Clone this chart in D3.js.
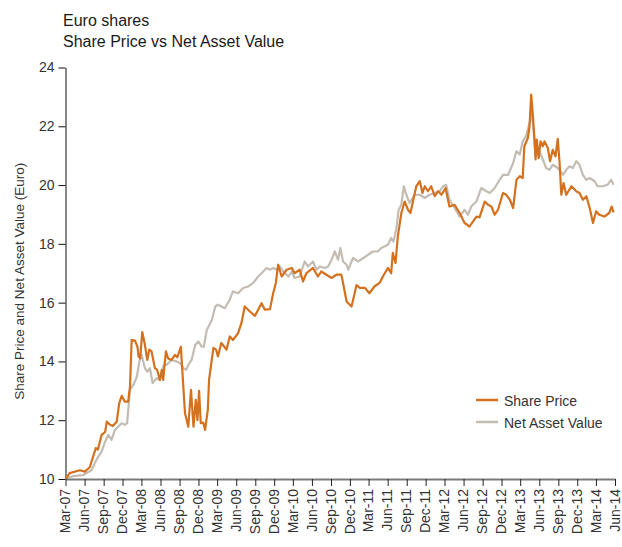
<!DOCTYPE html>
<html>
<head>
<meta charset="utf-8">
<script src="https://cdn.jsdelivr.net/npm/d3@7"></script>
<style>
  body { margin: 0; background: #fff; }
  text { font-family: "Liberation Sans", Arial, Helvetica, sans-serif; }
</style>
</head>
<body>
<div id="chart"></div>
<script>
// titles and labels
var titleLines = ["Euro shares", "Share Price vs Net Asset Value"];
var yLabel = "Share Price and Net Asset Value (Euro)";
var seriesNames = ["Share Price", "Net Asset Value"];
var yTicks = [10, 12, 14, 16, 18, 20, 22, 24];

// share price
var sharePrice = [
  ["2007-03-01",10.0],["2007-03-21",10.2],["2007-05-09",10.3],["2007-06-02",10.25],["2007-06-26",10.4],
  ["2007-07-25",11.05],["2007-08-04",11.0],["2007-08-22",11.5],["2007-09-08",11.6],["2007-09-16",11.95],
  ["2007-10-01",11.85],["2007-10-15",11.8],["2007-11-03",11.95],["2007-11-15",12.58],["2007-11-27",12.83],
  ["2007-12-12",12.63],["2007-12-28",12.63],["2008-01-06",13.15],["2008-01-14",14.73],["2008-01-30",14.71],
  ["2008-02-11",14.5],["2008-02-16",14.17],["2008-02-24",14.1],["2008-03-05",15.0],["2008-03-18",14.56],
  ["2008-03-29",14.05],["2008-04-08",14.4],["2008-04-19",14.34],["2008-05-05",13.77],["2008-05-16",13.71],
  ["2008-05-29",13.37],["2008-06-07",13.71],["2008-06-14",13.37],["2008-06-27",14.34],["2008-07-08",14.1],
  ["2008-07-24",14.05],["2008-08-10",14.22],["2008-08-21",14.14],["2008-09-07",14.5],["2008-09-27",12.24],
  ["2008-10-13",11.78],["2008-10-26",13.03],["2008-11-07",11.78],["2008-11-18",12.69],["2008-11-26",12.0],
  ["2008-12-04",13.0],["2008-12-12",11.9],["2008-12-24",11.92],["2009-01-02",11.67],["2009-01-15",12.35],
  ["2009-01-21",13.37],["2009-02-11",14.46],["2009-02-24",14.4],["2009-03-05",14.17],["2009-03-21",14.63],
  ["2009-03-29",14.56],["2009-04-15",14.4],["2009-05-01",14.85],["2009-05-16",14.73],["2009-06-10",14.96],
  ["2009-06-26",15.3],["2009-07-12",15.87],["2009-08-06",15.7],["2009-08-30",15.55],["2009-09-15",15.76],
  ["2009-10-01",15.98],["2009-10-17",15.76],["2009-11-11",15.78],["2009-11-26",16.32],["2009-12-09",16.67],
  ["2009-12-20",17.29],["2010-01-06",16.89],["2010-01-30",17.12],["2010-02-24",17.18],["2010-03-09",17.0],
  ["2010-04-03",17.12],["2010-04-19",16.72],["2010-05-05",17.0],["2010-06-06",17.18],["2010-06-30",16.89],
  ["2010-07-16",17.06],["2010-08-10",16.95],["2010-09-04",16.84],["2010-09-27",16.95],["2010-10-21",16.95],
  ["2010-10-29",16.67],["2010-11-15",16.04],["2010-12-09",15.87],["2011-01-02",16.6],["2011-01-18",16.5],
  ["2011-02-12",16.5],["2011-03-05",16.32],["2011-03-29",16.55],["2011-04-23",16.67],["2011-05-09",16.89],
  ["2011-06-02",17.18],["2011-06-18",17.0],["2011-06-26",17.69],["2011-07-09",17.35],["2011-07-20",18.25],
  ["2011-08-06",19.05],["2011-08-22",19.44],["2011-09-07",19.16],["2011-09-19",19.05],["2011-10-01",19.44],
  ["2011-10-17",19.96],["2011-11-03",20.13],["2011-11-16",19.73],["2011-11-27",19.96],["2011-12-12",19.79],
  ["2011-12-28",19.96],["2012-01-14",19.62],["2012-01-30",19.79],["2012-02-16",19.67],["2012-03-06",19.9],
  ["2012-03-25",19.27],["2012-04-19",19.33],["2012-05-13",19.05],["2012-06-06",18.71],["2012-06-30",18.59],
  ["2012-07-16",18.76],["2012-08-02",18.93],["2012-08-17",18.9],["2012-09-11",19.44],["2012-09-27",19.33],
  ["2012-10-13",19.27],["2012-10-29",18.99],["2012-11-14",19.16],["2012-12-08",19.73],["2012-12-24",19.67],
  ["2013-01-10",19.5],["2013-01-26",19.22],["2013-02-11",20.18],["2013-02-27",20.3],["2013-03-13",20.24],
  ["2013-03-21",21.32],["2013-04-07",21.6],["2013-04-15",22.0],["2013-04-23",23.08],["2013-04-30",22.46],
  ["2013-05-09",21.55],["2013-05-14",20.87],["2013-05-20",21.55],["2013-05-29",20.92],["2013-06-07",21.49],
  ["2013-06-18",21.32],["2013-06-26",21.49],["2013-07-12",21.26],["2013-07-23",20.81],["2013-08-05",21.2],
  ["2013-08-18",20.98],["2013-08-29",21.57],["2013-09-07",20.75],["2013-09-15",19.67],["2013-09-26",20.07],
  ["2013-10-09",19.67],["2013-11-03",19.96],["2013-11-26",19.79],["2013-12-12",19.73],["2013-12-28",19.5],
  ["2014-01-14",19.62],["2014-01-30",19.22],["2014-02-15",18.71],["2014-03-02",19.11],["2014-03-17",18.99],
  ["2014-04-11",18.93],["2014-05-04",19.05],["2014-05-16",19.27],["2014-05-25",19.07]
];

// net asset value
var netAssetValue = [
  ["2007-03-01",10.0],["2007-04-07",10.1],["2007-05-24",10.13],["2007-07-04",10.3],["2007-07-28",10.65],
  ["2007-08-06",10.76],["2007-08-22",10.93],["2007-09-08",11.27],["2007-09-23",11.5],["2007-10-09",11.33],
  ["2007-10-25",11.67],["2007-11-10",11.78],["2007-11-27",11.9],["2007-12-12",11.84],["2007-12-23",11.9],
  ["2008-01-06",13.03],["2008-01-22",13.2],["2008-02-08",13.48],["2008-02-20",14.0],["2008-03-02",14.22],
  ["2008-03-18",13.77],["2008-03-29",13.65],["2008-04-11",13.77],["2008-04-24",13.26],["2008-05-13",13.43],
  ["2008-05-29",13.37],["2008-06-17",13.88],["2008-06-30",13.88],["2008-07-24",14.05],["2008-08-18",14.0],
  ["2008-09-04",13.94],["2008-09-19",13.77],["2008-10-02",13.71],["2008-10-13",13.88],["2008-10-29",14.05],
  ["2008-11-15",14.56],["2008-11-30",14.68],["2008-12-17",14.5],["2008-12-27",14.5],["2009-01-10",15.07],
  ["2009-02-04",15.42],["2009-02-20",15.87],["2009-03-05",15.93],["2009-04-07",15.81],["2009-05-01",16.1],
  ["2009-05-16",16.38],["2009-06-10",16.32],["2009-07-04",16.5],["2009-07-28",16.55],["2009-08-22",16.67],
  ["2009-09-15",16.89],["2009-10-01",17.0],["2009-10-25",17.18],["2009-11-11",17.12],["2009-11-26",17.18],
  ["2009-12-13",17.12],["2009-12-28",17.23],["2010-01-14",17.06],["2010-02-08",16.89],["2010-02-24",17.06],
  ["2010-03-09",16.84],["2010-04-03",16.89],["2010-04-27",17.4],["2010-05-13",17.23],["2010-06-06",17.4],
  ["2010-06-23",17.12],["2010-07-08",17.23],["2010-08-02",17.18],["2010-08-18",17.23],["2010-09-04",17.46],
  ["2010-09-19",17.74],["2010-10-05",17.46],["2010-10-16",17.86],["2010-10-29",17.4],["2010-11-15",17.29],
  ["2010-11-23",17.12],["2010-12-16",17.52],["2011-01-10",17.4],["2011-02-04",17.52],["2011-02-27",17.63],
  ["2011-03-21",17.74],["2011-04-15",17.74],["2011-05-01",17.86],["2011-05-16",17.91],["2011-06-02",17.97],
  ["2011-06-18",18.2],["2011-06-29",18.08],["2011-07-12",18.48],["2011-07-24",19.16],["2011-08-06",19.33],
  ["2011-08-18",19.96],["2011-08-30",19.67],["2011-09-15",19.39],["2011-10-09",19.67],["2011-11-03",19.67],
  ["2011-11-27",19.56],["2011-12-20",19.67],["2012-01-14",19.73],["2012-02-07",19.79],["2012-02-23",19.96],
  ["2012-03-09",20.01],["2012-03-25",19.5],["2012-04-19",19.22],["2012-05-13",18.93],["2012-06-06",19.16],
  ["2012-06-22",18.99],["2012-07-08",19.27],["2012-08-02",19.44],["2012-08-25",19.9],["2012-09-19",19.79],
  ["2012-10-05",19.73],["2012-10-29",19.9],["2012-11-22",20.18],["2012-12-08",20.35],["2013-01-02",20.35],
  ["2013-01-26",20.75],["2013-02-11",21.15],["2013-02-27",21.04],["2013-03-13",21.49],["2013-03-29",21.66],
  ["2013-04-15",22.11],["2013-04-26",22.46],["2013-05-04",21.89],["2013-05-14",20.98],["2013-06-02",21.15],
  ["2013-06-18",20.87],["2013-07-04",20.58],["2013-07-20",20.52],["2013-08-05",20.69],["2013-08-29",20.58],
  ["2013-09-23",20.35],["2013-10-09",20.52],["2013-10-25",20.64],["2013-11-10",20.58],["2013-11-26",20.81],
  ["2013-12-12",20.69],["2013-12-28",20.35],["2014-01-14",20.18],["2014-01-30",20.24],["2014-02-23",20.13],
  ["2014-03-09",19.96],["2014-04-03",19.96],["2014-04-26",20.01],["2014-05-13",20.18],["2014-05-25",20.01]
];

var width = 622, height = 547;
var margin = {top: 67.5, right: 7, bottom: 68, left: 65.5};
var colors = ["#d4711f", "#c3bcb3"];

var parseDate = d3.timeParse("%Y-%m-%d");
var series = [sharePrice, netAssetValue].map(function(s){
  return s.map(function(d){ return {date: parseDate(d[0]), value: d[1]}; });
});

var svg = d3.select('#chart')
  .append('svg')
  .attr('width', width)
  .attr('height', height);

var x = d3.scaleTime()
  .domain([new Date(2007, 2, 1), new Date(2014, 5, 1)])
  .range([margin.left, width - margin.right]);

var y = d3.scaleLinear()
  .domain([10, 24])
  .range([height - margin.bottom, margin.top]);

// title
svg.append('g').selectAll('text')
  .data(titleLines)
  .enter()
  .append('text')
  .attr('x', 63)
  .attr('y', function(d, i){ return 26 + i * 21; })
  .attr('font-size', 16)
  .attr('fill', '#1a1a1a')
  .text(function(d){ return d; });

// y axis
var yAxis = svg.append('g')
  .attr('transform', 'translate(' + margin.left + ',0)')
  .call(d3.axisLeft(y).tickValues(yTicks).tickSize(7).tickSizeOuter(0).tickPadding(4));
yAxis.select('.domain').attr('stroke', '#111');
yAxis.selectAll('.tick line').attr('stroke', '#111');
yAxis.selectAll('text').attr('font-size', 14).attr('fill', '#333').attr('font-family', null);

svg.append('text')
  .attr('transform', 'translate(24,' + ((margin.top + height - margin.bottom) / 2 + 8) + ') rotate(-90)')
  .attr('text-anchor', 'middle')
  .attr('font-size', 13.5)
  .attr('fill', '#333')
  .text(yLabel);

// x axis, quarterly ticks Mar/Jun/Sep/Dec
var quarters = d3.timeMonth.range(new Date(2007, 2, 1), new Date(2014, 5, 2), 3);
var xAxis = svg.append('g')
  .attr('transform', 'translate(0,' + (height - margin.bottom) + ')')
  .call(d3.axisBottom(x).tickValues(quarters).tickFormat(d3.timeFormat('%b-%y')).tickSize(7).tickSizeOuter(0));
xAxis.selectAll('.tick line').attr('stroke', '#222');
xAxis.selectAll('text')
  .attr('font-size', 14)
  .attr('fill', '#333')
  .attr('font-family', null)
  .attr('text-anchor', 'end')
  .attr('transform', 'rotate(-90)')
  .attr('x', -10)
  .attr('y', 0)
  .attr('dy', '0.3em');

// lines (NAV first so the share price sits on top)
var line = d3.line()
  .x(function(d){ return x(d.date); })
  .y(function(d){ return y(d.value); });

[1, 0].forEach(function(i){
  svg.append('path')
    .datum(series[i])
    .attr('fill', 'none')
    .attr('stroke', colors[i])
    .attr('stroke-width', 2.2)
    .attr('stroke-linejoin', 'round')
    .attr('d', line);
});

// x axis line drawn over the series start
xAxis.select('.domain').attr('stroke', '#7a7a7a').attr('stroke-width', 2);
xAxis.raise();

// legend
var legend = svg.append('g').attr('transform', 'translate(476,400)');
var items = legend.selectAll('g')
  .data(seriesNames)
  .enter()
  .append('g')
  .attr('transform', function(d, i){ return 'translate(0,' + i * 22 + ')'; });
items.append('line')
  .attr('x1', 0).attr('x2', 22)
  .attr('stroke', function(d, i){ return colors[i]; })
  .attr('stroke-width', 2.5);
items.append('text')
  .attr('x', 28)
  .attr('y', 5.5)
  .attr('font-size', 14)
  .attr('fill', '#333')
  .text(function(d){ return d; });
</script>
</body>
</html>
